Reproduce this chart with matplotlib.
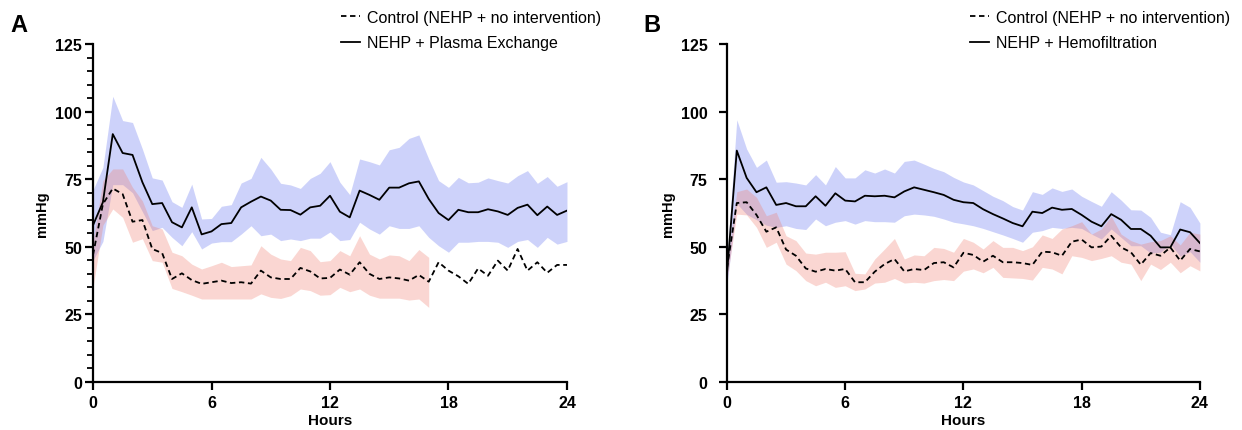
import numpy as np
import matplotlib
matplotlib.use("Agg")
import matplotlib.pyplot as plt
from matplotlib.ticker import MultipleLocator

plt.rcParams['font.family'] = ['Liberation Sans', 'DejaVu Sans']

# time points (every 30 min over 24 h)
hours = np.arange(0, 24.5, 0.5)

# Panel A: plasma exchange (mean and band)
a_pe_mean = [58, 66.5, 91.7, 84.7, 84, 73.9, 65.8, 66.2, 59.1, 57.2, 64.6, 54.6, 55.7, 58.4, 58.8,
             64.6, 66.7, 68.6, 67.1, 63.7, 63.6, 61.9, 64.6, 65.2, 68.9, 63, 60.9, 70.8, 69.2, 67.4,
             71.9, 71.9, 73.5, 74.2, 67.7, 62.5, 59.9, 63.7, 62.8, 62.8, 63.9, 63.1, 61.8, 64.4, 65.6,
             61.7, 64.9, 61.8, 63.4]
a_pe_upper = [71, 79.4, 105.7, 96.7, 96, 86.2, 75.5, 74.7, 66.7, 64.6, 73.2, 60.3, 60.5, 65, 65.6,
              73.6, 75.3, 83.1, 78.8, 73.5, 72.9, 71.6, 75.3, 77.2, 81.5, 73.9, 69.3, 82.5, 81.5, 80.3,
              85.9, 86.8, 90.1, 91.4, 82.5, 74.5, 72, 75.7, 73.7, 73.9, 75.5, 74.5, 73.6, 76.3, 78.2,
              73.5, 76, 72.4, 74.1]
a_pe_lower = [45, 52, 73, 73, 70, 63, 56, 57.2, 53.5, 50.4, 55.6, 49.2, 51.4, 51.9, 51.9,
              54.7, 57.8, 54.1, 54.7, 52.3, 52.9, 52.3, 53.2, 53.2, 55.5, 52.3, 52.7, 59.1, 56.6, 54.7,
              57.8, 56.8, 56.8, 57.8, 53.5, 50.4, 48, 51.7, 51.7, 52, 52, 51.7, 49.8, 52, 52.7,
              49.8, 53.5, 51, 52]

# Panel A: control (band only recorded up to 17 h)
a_ctrl_mean = [47, 65.8, 71.6, 69.5, 59.3, 59.9, 49.2, 47.7, 38.1, 40.2, 37.7, 36.3, 36.9, 37.5, 36.6,
               36.9, 36.4, 41.2, 38.7, 38.1, 38.1, 42.2, 40.9, 38.3, 38.5, 41.6, 39.7, 44.3, 40, 38.1,
               38.7, 38.3, 37.5, 39.6, 37.1, 44.3, 41.2, 39.1, 36.3, 42, 39.3, 44.9, 41.2, 49.2, 41.2,
               44.3, 40.4, 43.3, 43.3]
a_ctrl_upper = [52, 74.5, 78.8, 78.8, 72, 67, 57.8, 56.6, 48, 46.7, 43.6, 41.8, 43, 44.3, 42.7,
                43, 43.3, 50.4, 47.3, 45.5, 44.9, 49.8, 48.6, 44.5, 44.9, 48.6, 46.7, 54.1, 47.3, 45.5,
                47, 46.7, 44.9, 49, 46.1]
a_ctrl_lower = [35, 58, 64, 60.9, 51.7, 53, 44.9, 44.3, 34.6, 33.4, 32.1, 30.7, 30.7, 30.7, 30.7,
                30.7, 30.7, 32.6, 31.3, 30.9, 31.9, 34.4, 33.8, 32.1, 32.3, 35, 33.4, 34.4, 32.1, 31,
                31, 31, 30.3, 30.7, 27.6]

# Panel B: hemofiltration
b_hf_mean = [40, 85.6, 75.5, 70.2, 72, 65.5, 66.2, 65, 65, 68.7, 65.2, 69.8, 67.1, 66.8, 68.9,
             68.7, 68.9, 68.3, 70.5, 72, 71.1, 70.2, 69.2, 67.4, 66.5, 66.2, 63.9, 62.1, 60.5, 58.8,
             57.6, 63, 62.5, 64.5, 63.7, 64, 61.8, 59.3, 57.6, 62.1, 60, 56.6, 56.6, 54.1, 49.8,
             49.8, 56.4, 55.4, 51.4]
b_hf_upper = [45, 97, 86.2, 79.4, 82.1, 73.9, 74.1, 73.6, 72.9, 76.7, 72.9, 79.7, 75.5, 75.5, 78.5,
              77.3, 78.8, 77.3, 81.6, 82.1, 80.6, 79, 77.8, 75.7, 74, 72.9, 70.8, 68.7, 67.1, 64.9,
              63.6, 70.4, 69.4, 71.8, 70.5, 71.4, 68.7, 66.8, 65, 70.4, 67.3, 63.7, 63.6, 60.9, 55.4,
              54.5, 66.7, 64.6, 58.8]
b_hf_lower = [36, 66, 62, 60, 58, 57.2, 57.8, 56.8, 56.4, 60.3, 57.8, 59.1, 59.7, 58.4, 59.7,
              59.3, 59.3, 59.1, 61.5, 62.1, 61.8, 61.3, 60.3, 59.1, 58.5, 57.8, 56.8, 55.6, 54.4, 53.1,
              51.7, 55.4, 56, 57.2, 56.8, 57.2, 56.8, 54.7, 52.9, 56.6, 53.5, 50.4, 50.4, 47.7, 48,
              51, 46.5, 48.2, 44.3]

# Panel B: control
b_ctrl_mean = [42, 66.2, 66.5, 61.8, 55.6, 57.2, 49, 46.7, 42, 40.8, 41.8, 41.2, 41.8, 36.9, 36.9,
               40.8, 43.6, 45.5, 40.9, 41.8, 41.4, 44, 44.3, 42.4, 47.8, 47, 44.5, 46.7, 44.3, 44.3,
               44, 43.3, 48.2, 48, 46.7, 51.9, 52.7, 49.8, 50.1, 54.1, 49.8, 48, 43.4, 47.7, 46.7,
               49.8, 44.9, 49.2, 48.3]
b_ctrl_upper = [43, 70.4, 71.4, 68.3, 61.5, 62.8, 54.1, 52.3, 47.7, 47.3, 48, 48, 48.2, 40.2, 40,
                45.5, 49.2, 53.1, 45.5, 47, 46.7, 49.8, 49.4, 48, 53.1, 51.7, 49.2, 52.3, 49.8, 49.8,
                48.6, 50, 54.4, 53.1, 56.6, 57.8, 59.3, 54.7, 56.6, 61.3, 54.7, 52.3, 51, 51.9, 52.3,
                54.1, 50.7, 55.4, 54.7]
b_ctrl_lower = [38, 62.1, 61.8, 57.2, 49.8, 51.7, 43.6, 41.2, 37.5, 35.6, 36.9, 35, 35.6, 33.8, 34.4,
                36.6, 36.9, 38.3, 36.6, 36.9, 36.6, 37.5, 37.9, 37.5, 41, 41.8, 40.4, 42.4, 38.7, 38.5,
                38.3, 37.7, 42.4, 41.8, 40, 46.7, 46.1, 44.9, 45.7, 46.7, 44.3, 43.6, 37.5, 43.6, 41.6,
                44.3, 40.4, 43, 41.1]

blue = '#6a78f0'
pink = '#f07a6a'

fig = plt.figure(figsize=(12.42, 4.31), dpi=100)
axA = fig.add_axes([0.0749, 0.1114, 0.3816, 0.784])
axB = fig.add_axes([0.5853, 0.1114, 0.3808, 0.784])


def draw(ax, trt_mean, trt_up, trt_lo, ctl_mean, ctl_up, ctl_lo, trt_label, minor, pad, leg_x):
    n_ctl = len(ctl_up)
    ax.fill_between(hours, trt_lo, trt_up, color=blue, alpha=0.33, lw=0)
    ax.fill_between(hours[:n_ctl], ctl_lo, ctl_up, color=pink, alpha=0.3, lw=0)
    ax.plot(hours, ctl_mean, color='black', lw=1.3, dashes=(3, 2),
            label='Control (NEHP + no intervention)')
    ax.plot(hours, trt_mean, color='black', lw=1.3, label=trt_label)
    ax.set_xlim(0, 24)
    ax.set_ylim(0, 125)
    ax.set_xticks([0, 6, 12, 18, 24])
    ax.set_yticks([0, 25, 50, 75, 100, 125])
    if minor:
        ax.yaxis.set_minor_locator(MultipleLocator(5))
        ax.tick_params(axis='y', which='minor', length=4, width=1.3)
    ax.spines['top'].set_visible(False)
    ax.spines['right'].set_visible(False)
    ax.spines['left'].set_linewidth(1.6)
    ax.spines['bottom'].set_linewidth(1.6)
    ax.tick_params(axis='both', which='major', length=6, width=1.6, labelsize=11.5)
    ax.tick_params(axis='y', which='major', pad=pad)
    for lab in ax.get_xticklabels() + ax.get_yticklabels():
        lab.set_fontweight('bold')
    ax.set_xlabel('Hours', fontsize=11, fontweight='bold', labelpad=2)
    ax.set_ylabel('mmHg', fontsize=10.5, fontweight='bold', labelpad=4)
    ax.legend(loc='upper left', bbox_to_anchor=(leg_x, 1.12), frameon=False, fontsize=11.5,
              handlelength=1.2, handletextpad=0.45, labelspacing=0.65, borderaxespad=0)


draw(axA, a_pe_mean, a_pe_upper, a_pe_lower, a_ctrl_mean, a_ctrl_upper, a_ctrl_lower,
     'NEHP + Plasma Exchange', True, 2, 0.51)
draw(axB, b_hf_mean, b_hf_upper, b_hf_lower, b_ctrl_mean, b_ctrl_upper, b_ctrl_lower,
     'NEHP + Hemofiltration', False, 8, 0.50)

fig.text(0.008, 0.94, 'A', fontsize=17, fontweight='bold', va='center')
fig.text(0.518, 0.94, 'B', fontsize=17, fontweight='bold', va='center')

fig.savefig('out.png', dpi=100)
